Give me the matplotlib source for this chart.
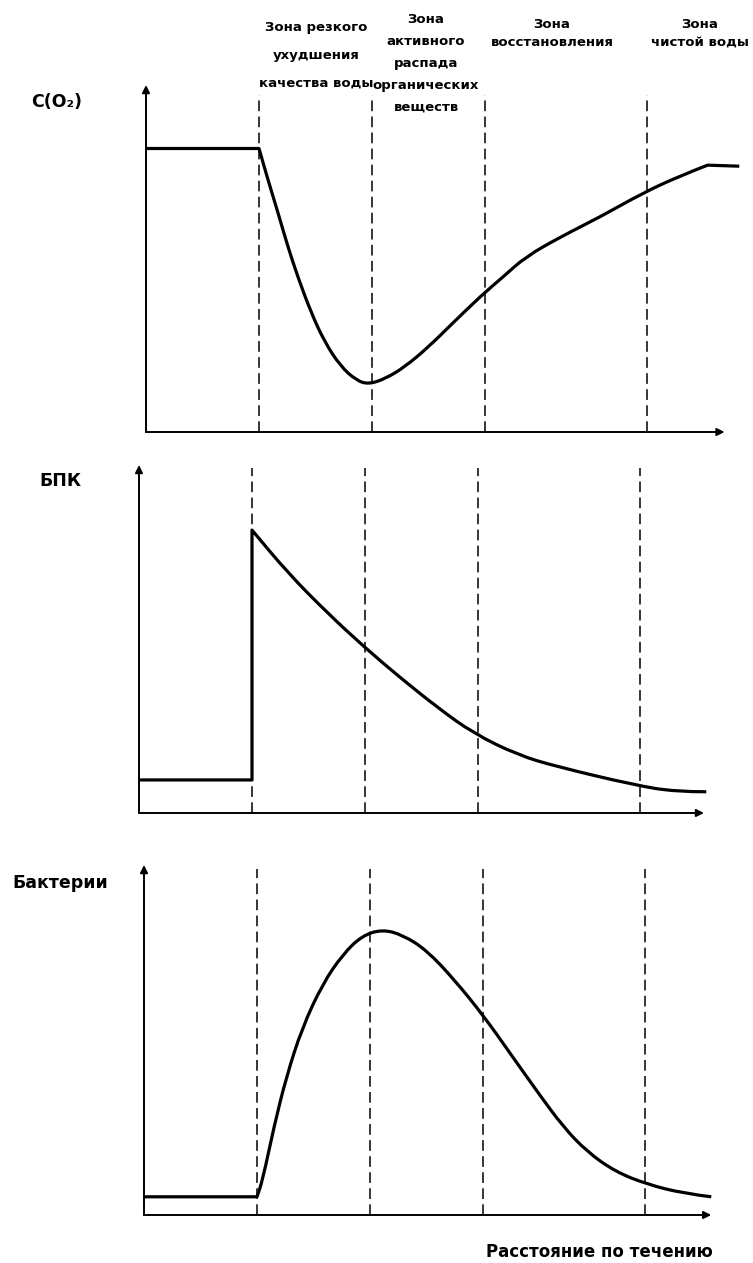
import matplotlib
matplotlib.use("Agg")
import matplotlib.pyplot as plt
from matplotlib.path import Path
from matplotlib.patches import PathPatch

W, H = 753, 1263
UNIT = 113  # pixels per zone width on the x axis

# zone boundaries (in zone widths from the y axis)
zone_edges = [1.0, 2.0, 3.0, 4.43]
zone_labels = [
    "Зона резкого\nухудшения\nкачества воды",
    "Зона\nактивного\nраспада\nорганических\nвеществ",
    "Зона\nвосстановления",
    "Зона\nчистой воды",
]

# dissolved oxygen C(O2)
o2_x = [0, 1.0, 1.08, 1.17, 1.25, 1.34, 1.46, 1.58, 1.72, 1.86, 1.97, 2.12, 2.29,
        2.5, 2.71, 2.97, 3.16, 3.36, 3.67, 4.02, 4.39, 4.71, 4.97, 5.25]
o2_y = [8.17, 8.17, 7.26, 6.30, 5.40, 4.50, 3.45, 2.60, 1.90, 1.49, 1.375, 1.54,
        1.875, 2.45, 3.125, 3.94, 4.47, 5.05, 5.625, 6.2, 6.875, 7.36, 7.69, 7.66]
o2_corners = [1, 22]

# БПК
bod_x = [0, 1.0, 1.0, 1.32, 1.67, 1.99, 2.30, 2.65, 2.96, 3.35, 3.70, 4.39, 4.75, 5.02]
bod_y = [0.95, 0.95, 8.13, 6.89, 5.74, 4.78, 3.92, 3.01, 2.29, 1.67, 1.33, 0.80, 0.61, 0.61]
bod_corners = [1, 2]

# бактерии
bac_x = [0, 1.0, 1.05, 1.15, 1.26, 1.40, 1.58, 1.76, 1.93, 2.11, 2.29, 2.5, 2.75,
         3.01, 3.24, 3.49, 3.71, 3.92, 4.17, 4.45, 4.77, 5.02]
bac_y = [0.52, 0.52, 1.0, 2.52, 3.95, 5.35, 6.60, 7.45, 7.98, 8.16, 8.0, 7.57, 6.71,
         5.67, 4.62, 3.48, 2.52, 1.81, 1.24, 0.88, 0.62, 0.52]
bac_corners = [1]

# panel geometry in pixels: y-axis x, x-axis y, arrow top y, x-arrow end (units)
panels = [
    dict(left=146, bottom=432, top=85, xend=5.12, name="C(O₂)", lab=(57, 102),
         x=o2_x, y=o2_y, corners=o2_corners, dash_top=9.7),
    dict(left=139, bottom=813, top=465, xend=5.0, name="БПК", lab=(60, 481),
         x=bod_x, y=bod_y, corners=bod_corners, dash_top=9.9),
    dict(left=144, bottom=1215, top=865, xend=5.02, name="Бактерии", lab=(60, 883),
         x=bac_x, y=bac_y, corners=bac_corners, dash_top=9.9),
]


def smooth_path(xs, ys, corners):
    # quadratic bezier through midpoints, sharp at the corner indices
    pts = list(zip(xs, ys))
    breaks = [0] + [c for c in corners if 0 < c < len(pts) - 1] + [len(pts) - 1]
    verts, codes = [pts[0]], [Path.MOVETO]
    for a, b in zip(breaks[:-1], breaks[1:]):
        seg = pts[a:b + 1]
        if len(seg) < 3:
            verts.append(seg[-1])
            codes.append(Path.LINETO)
            continue
        mid = lambda p, q: ((p[0] + q[0]) / 2, (p[1] + q[1]) / 2)
        verts.append(mid(seg[0], seg[1]))
        codes.append(Path.LINETO)
        for i in range(1, len(seg) - 1):
            end = mid(seg[i], seg[i + 1]) if i < len(seg) - 2 else seg[-1]
            verts += [seg[i], end]
            codes += [Path.CURVE3, Path.CURVE3]
    return Path(verts, codes)


fig = plt.figure(figsize=(W / 100, H / 100), dpi=100)
fig.patch.set_facecolor("white")


def fx(px):
    return px / W


def fy(py):
    return 1 - py / H


for p in panels:
    xr = 5.4
    ax = fig.add_axes([fx(p["left"]), fy(p["bottom"]), xr * UNIT / W,
                       (p["bottom"] - p["top"]) / H])
    ax.set_xlim(0, xr)
    ax.set_ylim(0, 10)
    ax.axis("off")

    # axes with arrows
    for tip in [(0, 10), (p["xend"], 0)]:
        ax.annotate("", xy=tip, xytext=(0, 0),
                    arrowprops=dict(arrowstyle="-|>", lw=1.4, color="black",
                                    mutation_scale=11, shrinkA=0, shrinkB=0),
                    annotation_clip=False)

    for e in zone_edges:
        ax.plot([e, e], [0, p["dash_top"]], color="black", lw=1.1,
                dashes=(7, 3.5), clip_on=False)

    patch = PathPatch(smooth_path(p["x"], p["y"], p["corners"]), facecolor="none",
                      edgecolor="black", lw=2.3, joinstyle="round", clip_on=False)
    ax.add_patch(patch)

    fig.text(fx(p["lab"][0]), fy(p["lab"][1]), p["name"], ha="center",
             va="center", fontsize=12.5, fontweight="bold")

# zone captions at the top
label_pos = [(316, 28, 2.5), (426, 20, 1.9), (552, 25, 1.45), (700, 25, 1.45)]
for text, (cx, cy, ls) in zip(zone_labels, label_pos):
    fig.text(fx(cx), fy(cy - 7), text, ha="center", va="top", fontsize=9.5,
             fontweight="bold", linespacing=ls)

fig.text(fx(713), fy(1252), "Расстояние по течению", ha="right", va="center",
         fontsize=12, fontweight="bold")

fig.savefig("out.png", dpi=100, facecolor="white")
